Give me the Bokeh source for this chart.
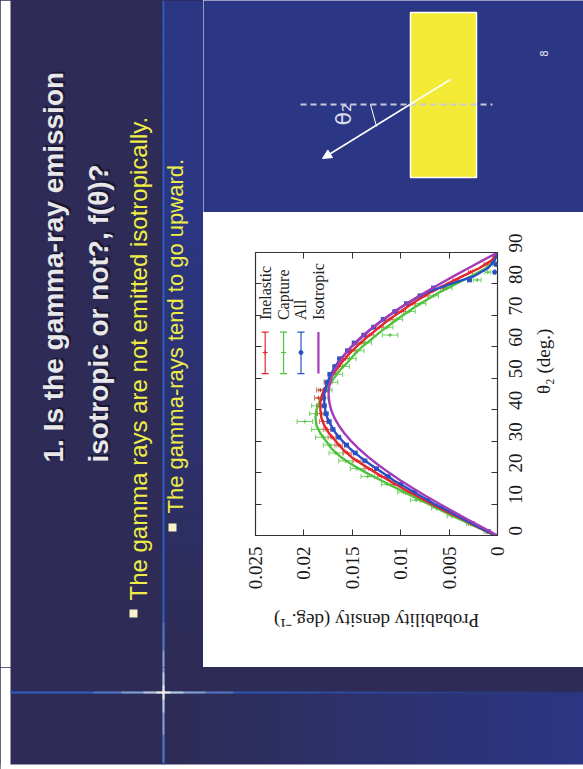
import math
from bokeh.plotting import figure
from bokeh.models import (Range1d, LinearAxis, FixedTicker, Whisker, TeeHead, Plot,
                          ColumnDataSource, Arrow, NormalHead)
from bokeh.layouts import row, column
from bokeh.core.properties import value
from bokeh.embed import file_html
from bokeh.resources import INLINE

# ---------------- data ----------------
theta_curve = [0, 2.5, 5, 7.5, 10, 12.5, 15, 17.5, 20, 22.5, 25, 27.5, 30, 32.5, 35, 37.5,
               40, 42.5, 45, 47.5, 50, 52.5, 55, 57.5, 60, 62.5, 65, 67.5, 70, 72.5, 75, 77.5,
               80, 82.5, 85, 87.5, 90]
inelastic_curve = [0.0002, 0.0019, 0.0035, 0.0052, 0.0068, 0.0083, 0.0098, 0.0112, 0.0126, 0.0139,
                   0.0151, 0.0160, 0.0167, 0.0174, 0.0179, 0.0182, 0.0183, 0.0183, 0.0181, 0.0177,
                   0.0173, 0.0167, 0.0161, 0.0154, 0.0146, 0.0137, 0.0127, 0.0117, 0.0106, 0.0094,
                   0.0082, 0.0068, 0.0052, 0.0036, 0.0019, 0.0006, 0.0]
capture_curve = [0.0002, 0.0020, 0.0038, 0.0055, 0.0071, 0.0088, 0.0104, 0.0120, 0.0136, 0.0150,
                 0.0162, 0.0171, 0.0177, 0.0183, 0.0187, 0.0188, 0.0187, 0.0184, 0.0180, 0.0175,
                 0.0169, 0.0163, 0.0155, 0.0148, 0.0140, 0.0130, 0.0120, 0.0109, 0.0098, 0.0086,
                 0.0073, 0.0059, 0.0043, 0.0027, 0.0012, 0.0003, 0.0]
all_curve = [0.0002, 0.0018, 0.0034, 0.0049, 0.0065, 0.0079, 0.0093, 0.0107, 0.0119, 0.0131,
             0.0142, 0.0152, 0.0160, 0.0167, 0.0172, 0.0176, 0.0178, 0.0179, 0.0179, 0.0177,
             0.0174, 0.0170, 0.0165, 0.0158, 0.0151, 0.0142, 0.0133, 0.0123, 0.0112, 0.0100,
             0.0087, 0.0072, 0.0048, 0.0024, 0.0010, 0.0003, 0.0]
isotropic_curve = [0.0, 0.00152, 0.00303, 0.00452, 0.00597, 0.00737, 0.00873, 0.01002, 0.01122,
                   0.01234, 0.01337, 0.01430, 0.01511, 0.01582, 0.01640, 0.01686, 0.01719, 0.01738,
                   0.01745, 0.01738, 0.01719, 0.01686, 0.01640, 0.01582, 0.01511, 0.01430, 0.01337,
                   0.01234, 0.01122, 0.01002, 0.00873, 0.00737, 0.00597, 0.00452, 0.00303, 0.00152,
                   0.0]

theta_bins = [1.25, 3.75, 6.25, 8.75, 11.25, 13.75, 16.25, 18.75, 21.25, 23.75, 26.25, 28.75,
              31.25, 33.75, 36.25, 38.75, 41.25, 43.75, 46.25, 48.75, 51.25, 53.75, 56.25, 58.75,
              61.25, 63.75, 66.25, 68.75, 71.25, 73.75, 76.25, 78.75, 81.25, 83.75, 86.25, 88.75]
inelastic_pts = [0.0010, 0.0027, 0.0044, 0.0060, 0.0076, 0.0091, 0.0106, 0.0120, 0.0133, 0.0145,
                 0.0155, 0.0164, 0.0171, 0.0176, 0.0180, 0.0182, 0.0183, 0.0185, 0.0183, 0.0175,
                 0.0171, 0.0164, 0.0157, 0.0151, 0.0141, 0.0132, 0.0122, 0.0112, 0.0099, 0.0088,
                 0.0075, 0.0056, 0.0043, 0.0028, 0.0012, 0.0003]
inelastic_err = [0.0002, 0.0003, 0.0003, 0.0003, 0.0004, 0.0004, 0.0004, 0.0004, 0.0004, 0.0004,
                 0.0004, 0.0004, 0.0004, 0.0004, 0.0004, 0.0004, 0.0004, 0.0004, 0.0004, 0.0004,
                 0.0004, 0.0004, 0.0004, 0.0004, 0.0004, 0.0004, 0.0004, 0.0004, 0.0004, 0.0003,
                 0.0003, 0.0003, 0.0003, 0.0002, 0.0002, 0.0001]
capture_pts = [0.0011, 0.0028, 0.0047, 0.0063, 0.0084, 0.0097, 0.0114, 0.0134, 0.0145, 0.0157,
               0.0167, 0.0173, 0.0180, 0.0185, 0.0199, 0.0187, 0.0185, 0.0182, 0.0178, 0.0172,
               0.0167, 0.0160, 0.0153, 0.0145, 0.0137, 0.0111, 0.0114, 0.0104, 0.0091, 0.0080,
               0.0066, 0.0052, 0.0021, 0.0010, 0.0003, 0.0001]
capture_err = [0.0003, 0.0004, 0.0005, 0.0005, 0.0006, 0.0006, 0.0006, 0.0007, 0.0007, 0.0007,
               0.0007, 0.0007, 0.0008, 0.0007, 0.0008, 0.0007, 0.0007, 0.0007, 0.0007, 0.0007,
               0.0007, 0.0007, 0.0007, 0.0007, 0.0007, 0.0008, 0.0006, 0.0006, 0.0006, 0.0006,
               0.0005, 0.0005, 0.0004, 0.0003, 0.0002, 0.0001]
all_pts = [0.0009, 0.0026, 0.0042, 0.0057, 0.0072, 0.0086, 0.0100, 0.0113, 0.0125, 0.0137,
           0.0147, 0.0156, 0.0164, 0.0170, 0.0174, 0.0177, 0.0179, 0.0180, 0.0178, 0.0176,
           0.0173, 0.0168, 0.0163, 0.0155, 0.0148, 0.0138, 0.0128, 0.0118, 0.0106, 0.0094,
           0.0080, 0.0066, 0.0029, 0.0003, 0.0002, 0.0001]
all_err = [0.0001, 0.0001, 0.0001, 0.0002, 0.0002, 0.0002, 0.0002, 0.0002, 0.0002, 0.0002,
           0.0002, 0.0002, 0.0002, 0.0002, 0.0002, 0.0002, 0.0002, 0.0002, 0.0002, 0.0002,
           0.0002, 0.0002, 0.0002, 0.0002, 0.0002, 0.0002, 0.0002, 0.0002, 0.0002, 0.0002,
           0.0002, 0.0002, 0.0002, 0.0001, 0.0001, 0.0001]

density_ticks = [0, 0.005, 0.01, 0.015, 0.02, 0.025]
density_tick_labels = ["0", "0.005", "0.01", "0.015", "0.02", "0.025"]
theta_ticks = [0, 10, 20, 30, 40, 50, 60, 70, 80, 90]
legend_labels = ["Inelastic", "Capture", "All", "Isotropic"]
x_label = "Probability density (deg.\u207b\u00b9)"
y_label = "\u03b8\u2082 (deg.)"
title_lines = ["1. Is the gamma-ray emission", "isotropic or not?, f(\u03b8)?"]
bullets = ["The gamma rays are not emitted isotropically.", "The gamma-rays tend to go upward."]

# ---------------- styles ----------------
NAVY = (46, 44, 86)
BRIGHT = (43, 54, 132)
LINE_BLUE = "#2d5ec6"
RED, GREEN, BLUE, PURPLE = "#e3262b", "#4fc23e", "#2850c4", "#a43cb8"
SERIF = value("Liberation Serif")
SANS = value("Liberation Sans")
EXTRA = {"frame_align": False} if "frame_align" in Plot.properties() else {}


def hexc(c):
    return "#%02x%02x%02x" % c


def mix(a, b, t):
    t = max(0.0, min(1.0, t))
    return "#%02x%02x%02x" % tuple(int(round(x + (y - x) * t)) for x, y in zip(a, b))


def panel(x0, x1, y0, y1, bg):
    f = figure(width=x1 - x0, height=y1 - y0, x_range=Range1d(x0, x1), y_range=Range1d(-y1, -y0),
               x_axis_type=None, y_axis_type=None, output_backend="svg", toolbar_location=None,
               min_border=0, background_fill_color=bg, border_fill_color=bg,
               outline_line_color=None, **EXTRA)
    return f


def glow(f):
    for half, a in [(70, 0.18), (42, 0.28), (20, 0.45), (7, 0.7)]:
        f.segment(x0=[163, 163 - half], y0=[-692 + half, -692], x1=[163, 163 + half],
                  y1=[-692 - half, -692], line_color="#fffbe6", line_alpha=a, line_width=2)


# ---------------- left strip (title + bullets) ----------------
L = panel(0, 203, 0, 667, hexc(NAVY))
L.quad(left=[0], right=[10], top=[0], bottom=[-667], fill_color="#ffffff", line_color=None)
n = 40
ys = [0 + 667 * i / n for i in range(n + 1)]
cols = [mix(BRIGHT, NAVY, ((ys[i] + ys[i + 1]) / 2 - 220) / 420) for i in range(n)]
L.quad(left=[164] * n, right=[204] * n, top=[-ys[i] for i in range(n)],
       bottom=[-ys[i + 1] - 0.5 for i in range(n)], fill_color=cols, line_color=None)
L.segment(x0=[163], y0=[0], x1=[163], y1=[-668], line_color=LINE_BLUE, line_width=2)
glow(L)

for txt, xc in zip(title_lines, [53, 98]):
    L.text(x=[xc + 2], y=[-462 + 2], text=[txt], angle=math.pi / 2, text_font=SANS,
           text_font_style="bold", text_font_size="28px", text_color="#0e0e22", text_alpha=0.7,
           text_align="left", text_baseline="middle")
    L.text(x=[xc], y=[-462], text=[txt], angle=math.pi / 2, text_font=SANS,
           text_font_style="bold", text_font_size="28px", text_color="#e8e8ea",
           text_align="left", text_baseline="middle")

L.rect(x=[133, 172], y=[-613, -527], width=8, height=8, fill_color="#f8f4c8", line_color=None)
L.text(x=[138], y=[-600], text=bullets[:1], angle=math.pi / 2, text_font=SANS,
       text_font_size="24px", text_color="#f0ee46", text_align="left", text_baseline="middle")
L.text(x=[175], y=[-513], text=bullets[1:], angle=math.pi / 2, text_font=SANS,
       text_font_size="22px", text_color="#f0ee46", text_align="left", text_baseline="middle")

# ---------------- top diagram ----------------
T = panel(203, 583, 0, 212, hexc(BRIGHT))
T.quad(left=[410], right=[476], top=[-12], bottom=[-177], fill_color="#f2ea34",
       line_color="#ffffff", line_width=1.5)
T.segment(x0=[300], y0=[-104], x1=[492], y1=[-104], line_color="#c9c9de", line_width=2,
          line_dash="6 4")
T.add_layout(Arrow(end=NormalHead(size=9, fill_color="white", line_color="white"),
                   x_start=450, y_start=-79, x_end=322, y_end=-158,
                   line_color="white", line_width=1.5))
T.segment(x0=[370], y0=[-104], x1=[376], y1=[-126], line_color="white", line_width=1)
T.text(x=[343], y=[-125], text=["\u03b8\u2082"], angle=math.pi / 2, text_font=value("DejaVu Sans"),
       text_font_size="22px", text_color="#dcdcea", text_align="left", text_baseline="middle")
T.text(x=[543], y=[-53], text=["8"], angle=math.pi / 2, text_font=value("DejaVu Sans"),
       text_font_size="10px", text_color="#e6e6f0", text_align="center", text_baseline="middle")

# ---------------- chart ----------------
p = figure(width=380, height=388, x_range=Range1d(0.025, 0), y_range=Range1d(0, 90),
           x_axis_type=None, y_axis_type=None, output_backend="svg", toolbar_location=None,
           min_border_left=52, min_border_right=86, min_border_top=40, min_border_bottom=65,
           background_fill_color="white", border_fill_color="white",
           outline_line_color="#333333", outline_line_width=1.2, **EXTRA)

overrides = {str(t): lab for t, lab in zip(density_ticks, density_tick_labels)}


def style_axis(ax, labels=True):
    ax.axis_line_color = None
    ax.major_tick_in = 6
    ax.major_tick_out = 0
    ax.major_tick_line_color = "#333333"
    ax.minor_tick_line_color = None
    ax.major_label_text_font = "Liberation Serif"
    ax.major_label_text_font_size = "19px" if labels else "0px"
    ax.major_label_text_color = "#1a1a1a" if labels else None
    ax.axis_label_text_font = "Liberation Serif"
    ax.axis_label_text_font_style = "normal"
    ax.axis_label_text_font_size = "19px"
    ax.axis_label_text_color = "#1a1a1a"


has_alo = "axis_label_orientation" in LinearAxis.properties()

xb = LinearAxis(ticker=FixedTicker(ticks=density_ticks), major_label_overrides=overrides,
                major_label_orientation=math.pi / 2, major_label_standoff=11)
style_axis(xb)
yr = LinearAxis(ticker=FixedTicker(ticks=theta_ticks), major_label_orientation=math.pi / 2,
                major_label_standoff=18, axis_label=y_label, axis_label_standoff=12)
style_axis(yr)
if has_alo:
    yr.axis_label_orientation = math.pi / 2
p.add_layout(xb, "below")
p.add_layout(yr, "right")
xt = LinearAxis(ticker=FixedTicker(ticks=density_ticks))
style_axis(xt, labels=False)
p.add_layout(xt, "above")
yl = LinearAxis(ticker=FixedTicker(ticks=theta_ticks))
style_axis(yl, labels=False)
p.add_layout(yl, "left")

series = [(capture_pts, capture_err, GREEN, "#6fd060", "cross"),
          (inelastic_pts, inelastic_err, RED, "#ea6a6a", "cross"),
          (all_pts, all_err, BLUE, "#3a58b8", "circle")]
for pts, err, col, ecol, mk in series:
    src = ColumnDataSource(dict(theta=theta_bins, d=pts,
                                lo=[a - b for a, b in zip(pts, err)],
                                hi=[a + b for a, b in zip(pts, err)]))
    p.add_layout(Whisker(source=src, base="theta", lower="lo", upper="hi", dimension="width",
                         line_color=ecol, line_width=1,
                         lower_head=TeeHead(size=5, line_color=ecol, line_width=1),
                         upper_head=TeeHead(size=5, line_color=ecol, line_width=1)))
    p.scatter(x="d", y="theta", source=src, marker=mk, size=4, line_color=col, fill_color=col)

for curve, col in [(capture_curve, GREEN), (inelastic_curve, RED), (all_curve, BLUE),
                   (isotropic_curve, PURPLE)]:
    p.line(x=curve, y=theta_curve, line_color=col, line_width=2.4)

# legend (rotated, drawn manually)
legend_x = [0.0240, 0.0221, 0.0203, 0.0185]
legend_cols = [RED, GREEN, BLUE, PURPLE]
p.text(x=legend_x, y=[68.5] * 4, text=legend_labels, angle=math.pi / 2, text_font=SERIF,
       text_font_size="16px", text_color="#222222", text_align="left", text_baseline="middle")
p.segment(x0=legend_x, y0=[51.5] * 4, x1=legend_x, y1=[64.7] * 4, line_color=legend_cols,
          line_width=[1.2, 1.2, 1.2, 2.2])
p.scatter(x=legend_x[:3] * 2, y=[51.5] * 3 + [64.7] * 3, marker="dash", size=7,
          line_color=legend_cols[:3] * 2, line_width=1.2)
p.scatter(x=legend_x[:2], y=[58.2] * 2, marker="cross", size=5, line_color=legend_cols[:2])
p.scatter(x=legend_x[2:3], y=[58.2], marker="circle", size=4, line_color=BLUE, fill_color=BLUE)

# ---------------- x-axis title strip (upside-down text) ----------------
X = panel(203, 583, 600, 667, "#ffffff")
X.text(x=[376], y=[-620], text=[x_label], angle=math.pi, text_font=SERIF,
       text_font_size="19px", text_color="#1a1a1a", text_align="center", text_baseline="middle")

# ---------------- bottom strip (full width) ----------------
B = panel(0, 583, 667, 769, hexc(NAVY))
m = 40
xs = [163 + (583 - 163) * i / m for i in range(m + 1)]
bc = [mix(NAVY, BRIGHT, ((xs[i] + xs[i + 1]) / 2 - 170) / 410) for i in range(m)]
B.quad(left=[v - 0.5 for v in xs[:-1]], right=[v + 0.5 for v in xs[1:]], top=[-692] * m,
       bottom=[-764] * m, fill_color=bc, line_color=None)
B.quad(left=[0], right=[10], top=[-667], bottom=[-769], fill_color="#ffffff", line_color=None)
B.quad(left=[0], right=[583], top=[-764], bottom=[-769], fill_color="#ffffff", line_color=None)
B.segment(x0=[163], y0=[-666], x1=[163], y1=[-764], line_color=LINE_BLUE, line_width=2)
k = 14
hx = [163 + (583 - 163) * i / k for i in range(k + 1)]
B.segment(x0=[10], y0=[-692], x1=[164], y1=[-692], line_color=LINE_BLUE, line_width=2)
B.segment(x0=[v - 1 for v in hx[:-1]], y0=[-692] * k, x1=hx[1:], y1=[-692] * k,
          line_color=LINE_BLUE,
          line_alpha=[max(0.05, 1.0 - 0.075 * i) for i in range(k)], line_width=2)
glow(B)

right_col = column(T, p, X, spacing=0, styles={"background-color": "#ffffff"})
top = row(L, right_col, spacing=0, styles={"background-color": hexc(NAVY)})
layout = column(top, B, spacing=0, styles={"background-color": hexc(NAVY)})
open("out.html", "w").write(file_html(layout, INLINE))
